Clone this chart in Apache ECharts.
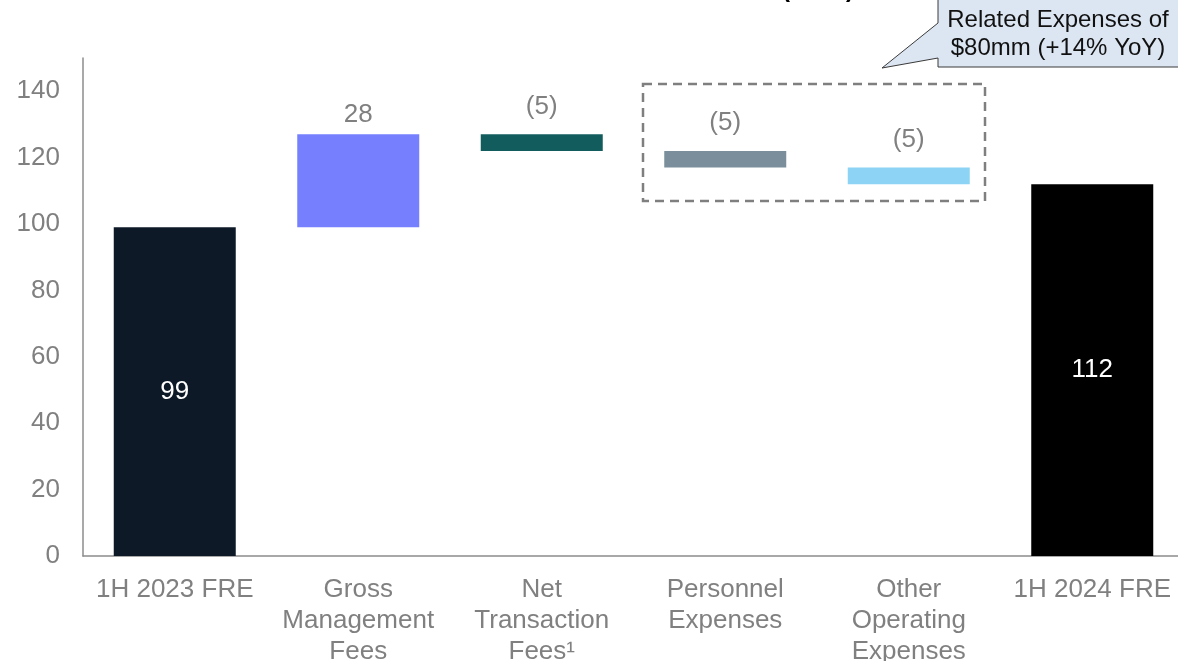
<!DOCTYPE html>
<html><head><meta charset="utf-8">
<script src="https://cdn.jsdelivr.net/npm/echarts@6/dist/echarts.min.js"></script>
<style>html,body{margin:0;padding:0;background:#fff;overflow:hidden}#c{width:1178px;height:661px}</style>
</head><body><div id="c"></div>
<script>
const categories = ['1H 2023 FRE', 'Gross\nManagement\nFees', 'Net\nTransaction\nFees¹', 'Personnel\nExpenses', 'Other\nOperating\nExpenses', '1H 2024 FRE'];
const changes = [99, 28, -5, -5, -5, 112];
const isTotal = [true, false, false, false, false, true];
const valueLabels = ['99', '28', '(5)', '(5)', '(5)', '112'];
const barColors = ['#0E1928', '#7680FF', '#135C5E', '#7A8F9B', '#8DD3F5', '#000000'];
const yMin = 0, yMax = 150, yInterval = 20;
const calloutText = 'Related Expenses of\n$80mm (+14% YoY)';
const titleText = '($mm)';

const FONT = '"Liberation Sans", Arial, sans-serif';
const GREY = '#808080';

let running = 0;
const baseData = [], barData = [];
changes.forEach((v, i) => {
  let base, h;
  if (isTotal[i]) { base = 0; h = v; running = v; }
  else if (v >= 0) { base = running; h = v; running += v; }
  else { running += v; base = running; h = -v; }
  baseData.push(base);
  barData.push({
    value: h,
    itemStyle: { color: barColors[i] },
    label: isTotal[i]
      ? { position: 'inside', color: '#ffffff', padding: [4, 0, 0, 0] }
      : { position: 'top', color: GREY, distance: v >= 0 ? 7 : 15 }
  });
});

const chart = echarts.init(document.getElementById('c'), null, { renderer: 'canvas' });
chart.setOption({
  animation: false,
  backgroundColor: '#ffffff',
  grid: { left: 83, top: 58, width: 1101, height: 498, containLabel: false, outerBoundsMode: 'none' },
  xAxis: {
    type: 'category',
    data: categories,
    axisLine: { show: true, lineStyle: { color: '#8c8c8c', width: 1.5 } },
    axisTick: { show: false },
    axisLabel: { interval: 0, color: GREY, fontSize: 26, lineHeight: 31, margin: 18, fontFamily: FONT }
  },
  yAxis: {
    type: 'value',
    min: yMin, max: yMax, interval: yInterval,
    axisLine: { show: true, lineStyle: { color: '#8c8c8c', width: 1.5 } },
    axisTick: { show: false },
    splitLine: { show: false },
    axisLabel: { color: GREY, fontSize: 26, margin: 23, fontFamily: FONT, showMaxLabel: false, padding: [4, 0, 0, 0] }
  },
  series: [
    { type: 'bar', stack: 'w', data: baseData, barWidth: 122, itemStyle: { color: 'rgba(0,0,0,0)' }, silent: true },
    {
      type: 'bar', stack: 'w', data: barData, barWidth: 122,
      label: {
        show: true, fontSize: 26, fontFamily: FONT,
        formatter: p => valueLabels[p.dataIndex]
      }
    }
  ],
  graphic: [
    {
      type: 'rect', z: 10,
      shape: { x: 643, y: 84, width: 342, height: 117 },
      style: { fill: 'none', stroke: '#7f7f7f', lineWidth: 2.5, lineDash: [9, 6] }
    },
    {
      type: 'polygon', z: 10,
      shape: { points: [[938, -5], [1184, -5], [1184, 67], [938, 67], [938, 58], [882, 68], [938, 23]] },
      style: { fill: '#DCE6F2', stroke: '#3a3a3a', lineWidth: 1 }
    },
    {
      type: 'text', z: 11, x: 1058, y: 34,
      style: { text: calloutText, fontSize: 24, lineHeight: 28, fontFamily: FONT, fill: '#111111', align: 'center', verticalAlign: 'middle' }
    },
    {
      type: 'text', z: 11, x: 818, y: -10,
      style: { text: titleText, fontSize: 24, fontWeight: 'bold', fontFamily: FONT, fill: '#000000', align: 'center', verticalAlign: 'middle' }
    }
  ]
});
</script></body></html>
